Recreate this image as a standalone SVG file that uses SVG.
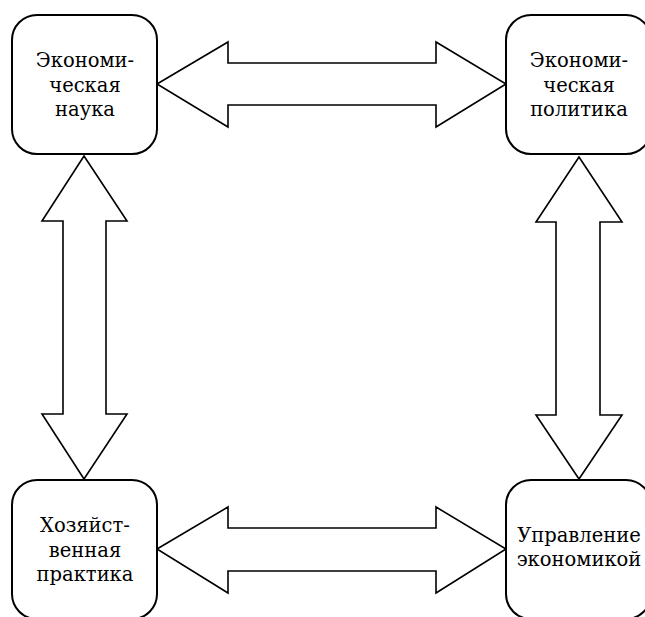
<svg xmlns="http://www.w3.org/2000/svg" width="645" height="617" viewBox="0 0 645 617">
<style>
.box{fill:#fff;stroke:#000;stroke-width:2}
.arr{fill:#fff;stroke:#000;stroke-width:1.6;stroke-linejoin:miter}
.t{font-family:"DejaVu Serif","Noto Serif",serif;font-size:19.5px;fill:#000;text-anchor:middle}
</style>
<rect width="645" height="617" fill="#fff"/>
<g id="connectors">
<polygon class="arr" points="157,84 228,42 228,63 436,63 436,42 506,84 436,127 436,105 228,105 228,127"/>
<polygon class="arr" points="157,549 228,507 228,528 436,528 436,507 506,549 436,593 436,571 228,571 228,593"/>
<polygon class="arr" points="84,156 127,221 106,221 106,414 127,414 84,479 42,414 63,414 63,221 42,221"/>
<polygon class="arr" points="579,157 622,222 600,222 600,415 622,415 579,479 536,415 556,415 556,222 536,222"/>
</g>
<g id="node-science">
<rect class="box" x="12" y="15" width="145" height="139" rx="25"/>
<text class="t" x="85" y="67">Экономи-</text>
<text class="t" x="85" y="92">ческая</text>
<text class="t" x="85" y="116">наука</text>
</g>
<g id="node-policy">
<rect class="box" x="506" y="15" width="145" height="139" rx="25"/>
<text class="t" x="579" y="67">Экономи-</text>
<text class="t" x="579" y="92">ческая</text>
<text class="t" x="579" y="116">политика</text>
</g>
<g id="node-practice">
<rect class="box" x="12" y="480" width="145" height="139" rx="25"/>
<text class="t" x="85" y="532">Хозяйст-</text>
<text class="t" x="85" y="557">венная</text>
<text class="t" x="85" y="581">практика</text>
</g>
<g id="node-management">
<rect class="box" x="506" y="480" width="145" height="139" rx="25"/>
<text class="t" x="579" y="542">Управление</text>
<text class="t" x="579" y="566">экономикой</text>
</g>
</svg>
